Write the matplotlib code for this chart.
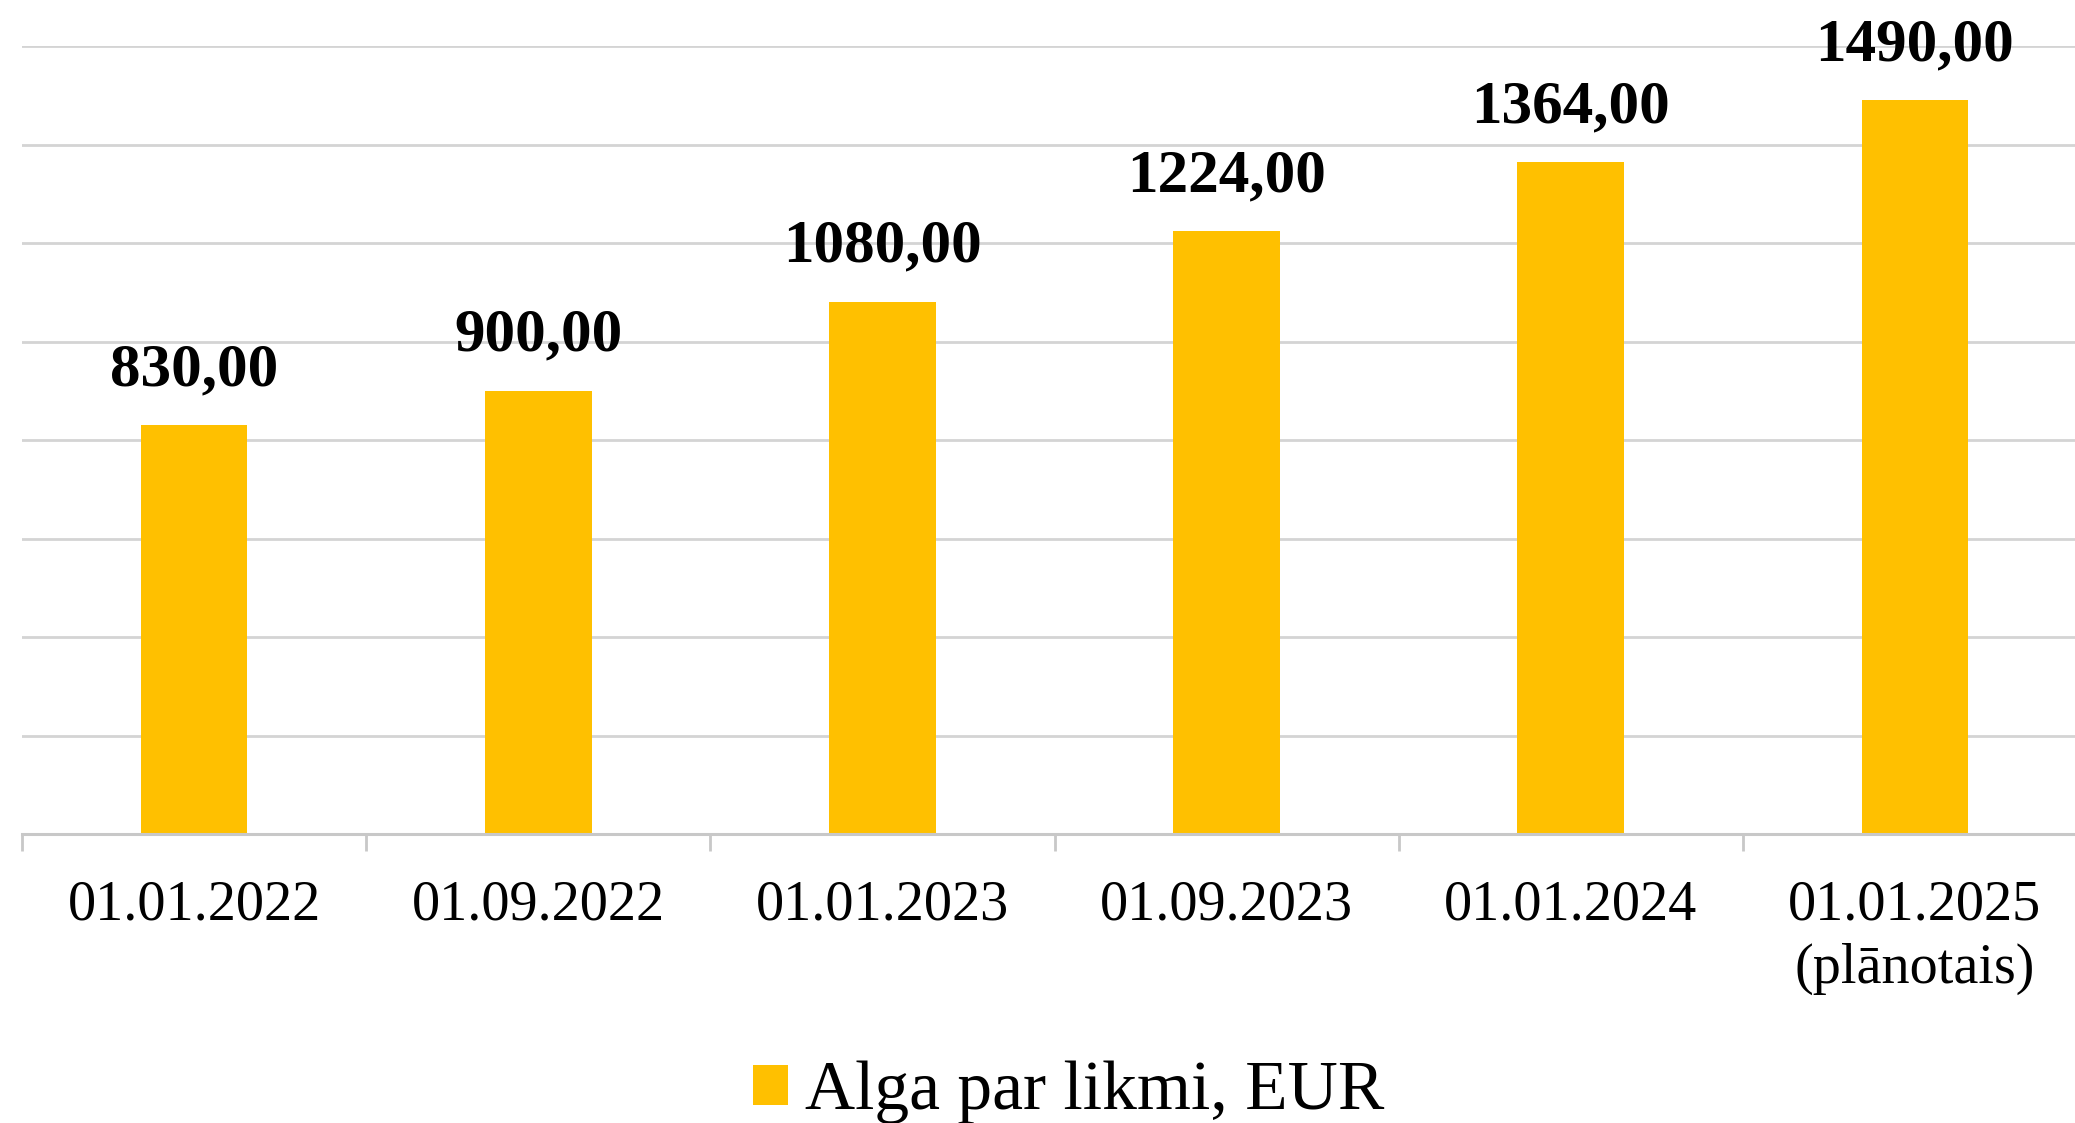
import numpy as np
import matplotlib
matplotlib.use('Agg')
import matplotlib.pyplot as plt

# data
categories = ['01.01.2022', '01.09.2022', '01.01.2023', '01.09.2023', '01.01.2024', '01.01.2025\n(plānotais)']
values = [830.00, 900.00, 1080.00, 1224.00, 1364.00, 1490.00]
series_name = 'Alga par likmi, EUR'

plt.rcParams['font.family'] = ['Liberation Serif', 'DejaVu Serif']

fig = plt.figure(figsize=(20.75, 11.23), dpi=100)
ax = fig.add_axes([0.0106, 0.2573, 0.9952, 0.7017])

x = np.arange(len(categories))
bars = ax.bar(x, values, width=0.31, color='#FFC000', label=series_name, zorder=3)

# value labels
for xi, v in zip(x, values):
    ax.annotate(f'{v:.2f}'.replace('.', ','), xy=(xi, v), xytext=(0, 29),
                textcoords='offset points', ha='center', va='baseline',
                fontsize=44, fontweight='bold', color='black')

ax.set_xlim(-0.5, len(categories) - 0.5)
ax.set_ylim(0, 1600)
ax.set_yticks(np.arange(0, 1601, 200))
ax.yaxis.grid(True, color='#d4d4d4', linewidth=2.0, zorder=0)
ax.tick_params(axis='y', left=False, labelleft=False)

for s in ['left', 'right', 'top']:
    ax.spines[s].set_visible(False)
ax.spines['bottom'].set_color('#c8c8c8')
ax.spines['bottom'].set_linewidth(2.2)
ax.spines['bottom'].set_zorder(4)

ax.set_xticks(x)
ax.set_xticklabels(categories, fontsize=40.5, linespacing=1.27)
ax.tick_params(axis='x', which='major', length=0, pad=33)
ax.set_xticks(np.arange(-0.5, len(categories), 1.0), minor=True)
ax.tick_params(axis='x', which='minor', length=12, width=2, color='#c8c8c8')

leg = fig.legend(loc='center', bbox_to_anchor=(0.515, 0.027), frameon=False,
                 fontsize=50, handlelength=0.5, handleheight=0.5, handletextpad=0.25)

plt.savefig('out.png', dpi=100)
